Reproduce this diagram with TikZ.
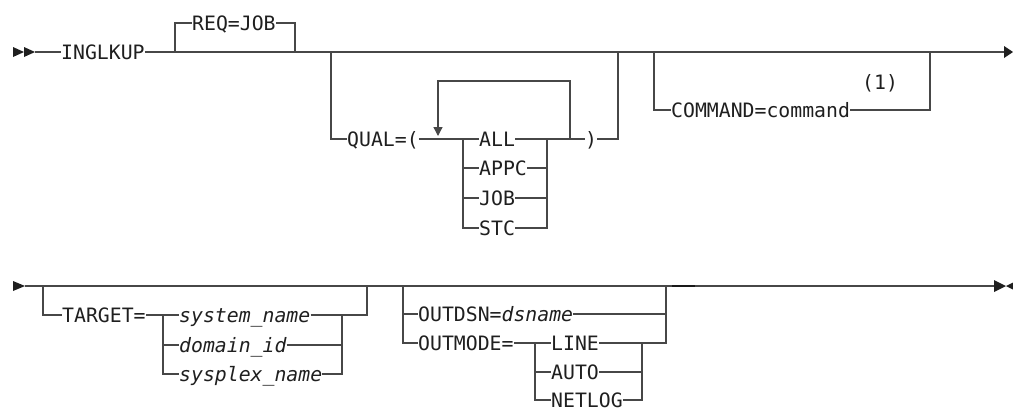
\documentclass[tikz,border=0pt]{standalone}
\usepackage{fontspec}
\setmonofont{DejaVu Sans Mono}
\usetikzlibrary{arrows.meta}

\tikzset{
    rail/.style={draw=black!72, line width=1.3pt},
    kw/.style={font=\ttfamily\fontsize{19.8pt}{24pt}\selectfont, text=black!88,
        inner sep=0pt, text height=14.4pt, text depth=0pt, anchor=west},
    var/.style={kw, font=\ttfamily\itshape\fontsize{19.8pt}{24pt}\selectfont},
}

\begin{document}
\begin{tikzpicture}[x=1pt, y=-1pt]
    \useasboundingbox (0, 0) rectangle (1013, 410);

    % First line
    \fill [black!88] (13, 47) -- (24, 52) -- (13, 57) -- cycle;
    \fill [black!88] (24, 47) -- (35, 52) -- (24, 57) -- cycle;
    \coordinate (s1) at (35, 52);
    \coordinate (e1) at (1004, 52);
    \node [kw] (inglkup) at (61, 52) {INGLKUP};
    \draw [rail] (s1) -- (inglkup.west);
    \draw [rail] (inglkup.east) -- (e1);
    \fill [black!88] (1004, 46) -- (1013, 52) -- (1004, 58) -- cycle;

    % Default REQ=JOB
    \coordinate (reqin) at (175, 52);
    \coordinate (reqout) at (295, 52);
    \node [kw] (reqjob) at (192, 23) {REQ=JOB};
    \draw [rail] (reqin) |- (reqjob.west);
    \draw [rail] (reqjob.east) -| (reqout);

    % QUAL with repeat loop
    \coordinate (qin) at (331, 52);
    \coordinate (qout) at (618, 52);
    \node [kw] (qual) at (347, 139) {QUAL=(};
    \node [kw] (all) at (479, 139) {ALL};
    \node [kw] (appc) at (479, 168) {APPC};
    \node [kw] (job) at (479, 198) {JOB};
    \node [kw] (stc) at (479, 228) {STC};
    \node [kw] (rparen) at (585, 139) {)};
    \coordinate (qchl) at (463, 139);
    \coordinate (qchr) at (547, 139);
    \coordinate (loopr) at (570, 139);
    \coordinate (loopl) at (438, 136);
    \draw [rail] (qin) |- (qual.west);
    \draw [rail] (qual.east) -- (all.west);
    \draw [rail] (qchl) |- (stc.west);
    \draw [rail] (qchl |- appc) -- (appc.west);
    \draw [rail] (qchl |- job) -- (job.west);
    \draw [rail] (all.east) -- (rparen.west);
    \draw [rail] (appc.east) -| (qchr);
    \draw [rail] (job.east) -| (qchr);
    \draw [rail] (stc.east) -| (qchr);
    \draw [rail, -{Triangle[width=9pt, length=9pt]}] (loopr) |- (438, 81) -- (loopl);
    \draw [rail] (rparen.east) -| (qout);

    % COMMAND
    \coordinate (cin) at (654, 52);
    \coordinate (cout) at (930, 52);
    \node [kw] (command) at (671, 110) {COMMAND=command};
    \node [kw] (note) at (862, 82) {(1)};
    \draw [rail] (cin) |- (command.west);
    \draw [rail] (command.east) -| (cout);

    % Second line
    \fill [black!88] (13, 281) -- (25, 286) -- (13, 291) -- cycle;
    \coordinate (s2) at (25, 286);
    \coordinate (e2) at (994, 286);
    \draw [rail] (s2) -- (e2);
    \draw [black!90, line width=2.2pt] (672, 286) -- (695, 286);
    \fill [black!88] (994, 280) -- (1006, 286) -- (994, 292) -- cycle;
    \fill [black!88] (1018, 280) -- (1006, 286) -- (1018, 292) -- cycle;

    % TARGET
    \coordinate (tin) at (43, 286);
    \coordinate (tout) at (367, 286);
    \node [kw] (target) at (62, 315) {TARGET=};
    \node [var] (sysname) at (179, 315) {system\_name};
    \node [var] (domid) at (179, 345) {domain\_id};
    \node [var] (sysplex) at (179, 374) {sysplex\_name};
    \coordinate (tchl) at (163, 315);
    \coordinate (tchr) at (342, 315);
    \draw [rail] (tin) |- (target.west);
    \draw [rail] (target.east) -- (sysname.west);
    \draw [rail] (tchl) |- (sysplex.west);
    \draw [rail] (tchl |- domid) -- (domid.west);
    \draw [rail] (sysname.east) -| (tout);
    \draw [rail] (domid.east) -| (tchr);
    \draw [rail] (sysplex.east) -| (tchr);

    % OUTDSN / OUTMODE
    \coordinate (oin) at (403, 286);
    \coordinate (oout) at (666, 286);
    \node [kw] (outdsn) at (418, 314) {OUTDSN=\textit{dsname}};
    \node [kw] (outmode) at (418, 343) {OUTMODE=};
    \node [kw] (line) at (551, 343) {LINE};
    \node [kw] (auto) at (551, 372) {AUTO};
    \node [kw] (netlog) at (551, 400) {NETLOG};
    \coordinate (ochl) at (535, 343);
    \coordinate (ochr) at (642, 343);
    \draw [rail] (oin) |- (outmode.west);
    \draw [rail] (oin |- outdsn) -- (outdsn.west);
    \draw [rail] (outdsn.east) -| (oout);
    \draw [rail] (outmode.east) -- (line.west);
    \draw [rail] (ochl) |- (netlog.west);
    \draw [rail] (ochl |- auto) -- (auto.west);
    \draw [rail] (line.east) -| (oout);
    \draw [rail] (auto.east) -| (ochr);
    \draw [rail] (netlog.east) -| (ochr);
\end{tikzpicture}
\end{document}
